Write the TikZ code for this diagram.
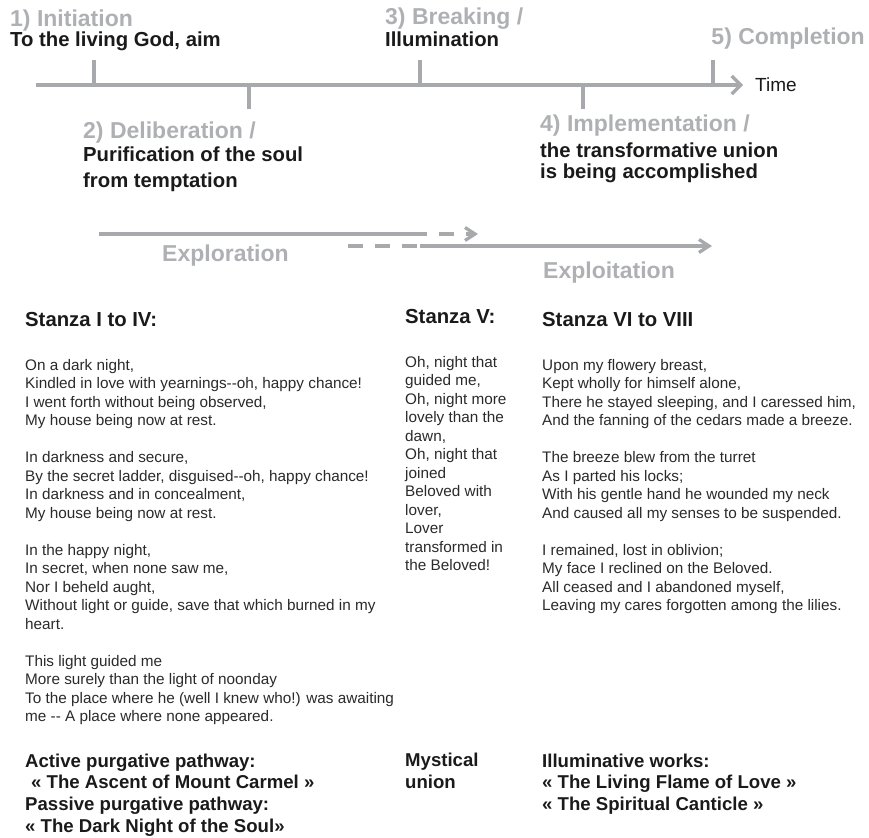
\documentclass[tikz,border=0pt]{standalone}
\usepackage{fontspec}
\setmainfont{Liberation Sans}
\usepackage{xcolor,tikz}
\usetikzlibrary{arrows.meta,positioning}
\definecolor{linegray}{HTML}{A7A9AC}
\definecolor{phasegray}{HTML}{AEB0B3}
\definecolor{ink}{HTML}{1A1A1A}
\definecolor{verseink}{HTML}{2A2A2A}
\newcommand{\dd}{-\kern0pt-}
\tikzset{phase/.style={anchor=base west,inner sep=0pt,text=phasegray,
  font=\fontsize{23}{27}\selectfont\bfseries},
  goal/.style={anchor=base west,inner sep=0pt,align=left,text=ink,
  font=\fontsize{20.3}{25}\selectfont\bfseries},
  heading/.style={anchor=base west,inner sep=0pt,text=ink,
  font=\fontsize{20.3}{24}\selectfont\bfseries},
  verse/.style={anchor=base west,inner sep=0pt,align=left,text=verseink,
  font=\fontsize{15.3}{18.5}\selectfont},
  works/.style={anchor=base west,inner sep=0pt,align=left,text=ink,
  font=\fontsize{18.6}{21.6}\selectfont\bfseries},
  axis/.style={line width=3.3pt,draw=linegray},
  arrow/.style={axis,-{Straight Barb[length=9pt,width=18pt]}},
  flow/.style={axis,-{Straight Barb[length=10pt,width=13pt]}},
  gapped/.style={dash pattern=on 15pt off 12pt}}
\begin{document}
\begin{tikzpicture}[x=1pt,y=-1pt]
\useasboundingbox (0,0) rectangle (869,837);
% time axis
\coordinate (axisL) at (36,85);
\coordinate (axisR) at (743,85);
\draw[arrow] (axisL)--(axisR);
\foreach \x/\y [count=\i] in {94/60,249/109,420/60,583/109,713/60}{
  \coordinate (tb\i) at (\x,85);
  \coordinate (te\i) at (\x,\y);
  \draw[axis] (tb\i)--(te\i);}
\node[anchor=base west,inner sep=0pt,text=ink,font=\fontsize{19}{22}\selectfont] (time) at (755,92) {Time};
% phases (multi-line nodes sit on their last baseline)
\node[phase] (p1) at (10,27) {1) Initiation};
\node[goal] (g1) at (10,47) {To the living God, aim};
\node[phase] (p3) at (385,25) {3) Breaking /};
\node[goal] (g3) at (385,47) {Illumination};
\node[phase,anchor=base east] (p5) at (865,45) {5) Completion};
\node[phase] (p2) at (83,139) {2) Deliberation /};
\node[goal] (g2) at (83,187) {Purification of the soul\\from temptation};
\node[phase] (p4) at (540,132) {4) Implementation /};
\node[goal,font=\fontsize{20.3}{21.7}\selectfont\bfseries] (g4) at (540,178.7) {the transformative union\\is being accomplished};
% exploration / exploitation
\coordinate (exA) at (99,234);
\coordinate (exB) at (412,234);
\coordinate (exC) at (478,234);
\draw[axis] (exA)--(exB);
\draw[flow,gapped] (exB)--(exC);
\coordinate (xpA) at (348,246);
\coordinate (xpB) at (420,246);
\coordinate (xpC) at (712,246);
\draw[axis,gapped] (xpA)--(xpB);
\draw[flow] (xpB)--(xpC);
\node[phase] (explore) at (162,261) {Exploration};
\node[phase] (exploit) at (543,278) {Exploitation};
% stanzas
\node[heading] (h1) at (25,326) {Stanza I to IV:};
\node[heading] (h2) at (405,323) {Stanza V:};
\node[heading] (h3) at (542,326) {Stanza VI to VIII};
\node[verse] (v1) at (25,721.5) {On a dark night,\\Kindled in love with yearnings\dd oh, happy chance!\\I went forth without being observed,\\My house being now at rest.\\[18.5pt]
In darkness and secure,\\By the secret ladder, disguised\dd oh, happy chance!\\In darkness and in concealment,\\My house being now at rest.\\[18.5pt]
In the happy night,\\In secret, when none saw me,\\Nor I beheld aught,\\Without light or guide, save that which burned in my\\heart.\\[18.5pt]
This light guided me\\More surely than the light of noonday\\To the place where he (well I knew who!) was awaiting\\me \dd{} A place where none appeared.};
\node[verse] (v2) at (405,570.5) {Oh, night that\\guided me,\\Oh, night more\\lovely than the\\dawn,\\Oh, night that\\joined\\Beloved with\\lover,\\Lover\\transformed in\\the Beloved!};
\node[verse] (v3) at (542,610.5) {Upon my flowery breast,\\Kept wholly for himself alone,\\There he stayed sleeping, and I caressed him,\\And the fanning of the cedars made a breeze.\\[18.5pt]
The breeze blew from the turret\\As I parted his locks;\\With his gentle hand he wounded my neck\\And caused all my senses to be suspended.\\[18.5pt]
I remained, lost in oblivion;\\My face I reclined on the Beloved.\\All ceased and I abandoned myself,\\Leaving my cares forgotten among the lilies.};
% works
\node[works] (w1) at (25,832) {Active purgative pathway:\\\hspace*{6pt}« The Ascent of Mount Carmel »\\Passive purgative pathway:\\« The Dark Night of the Soul»};
\node[works] (w2) at (405,788.4) {Mystical\\union};
\node[works] (w3) at (542,810.2) {Illuminative works:\\« The Living Flame of Love »\\« The Spiritual Canticle »};
\end{tikzpicture}
\end{document}
